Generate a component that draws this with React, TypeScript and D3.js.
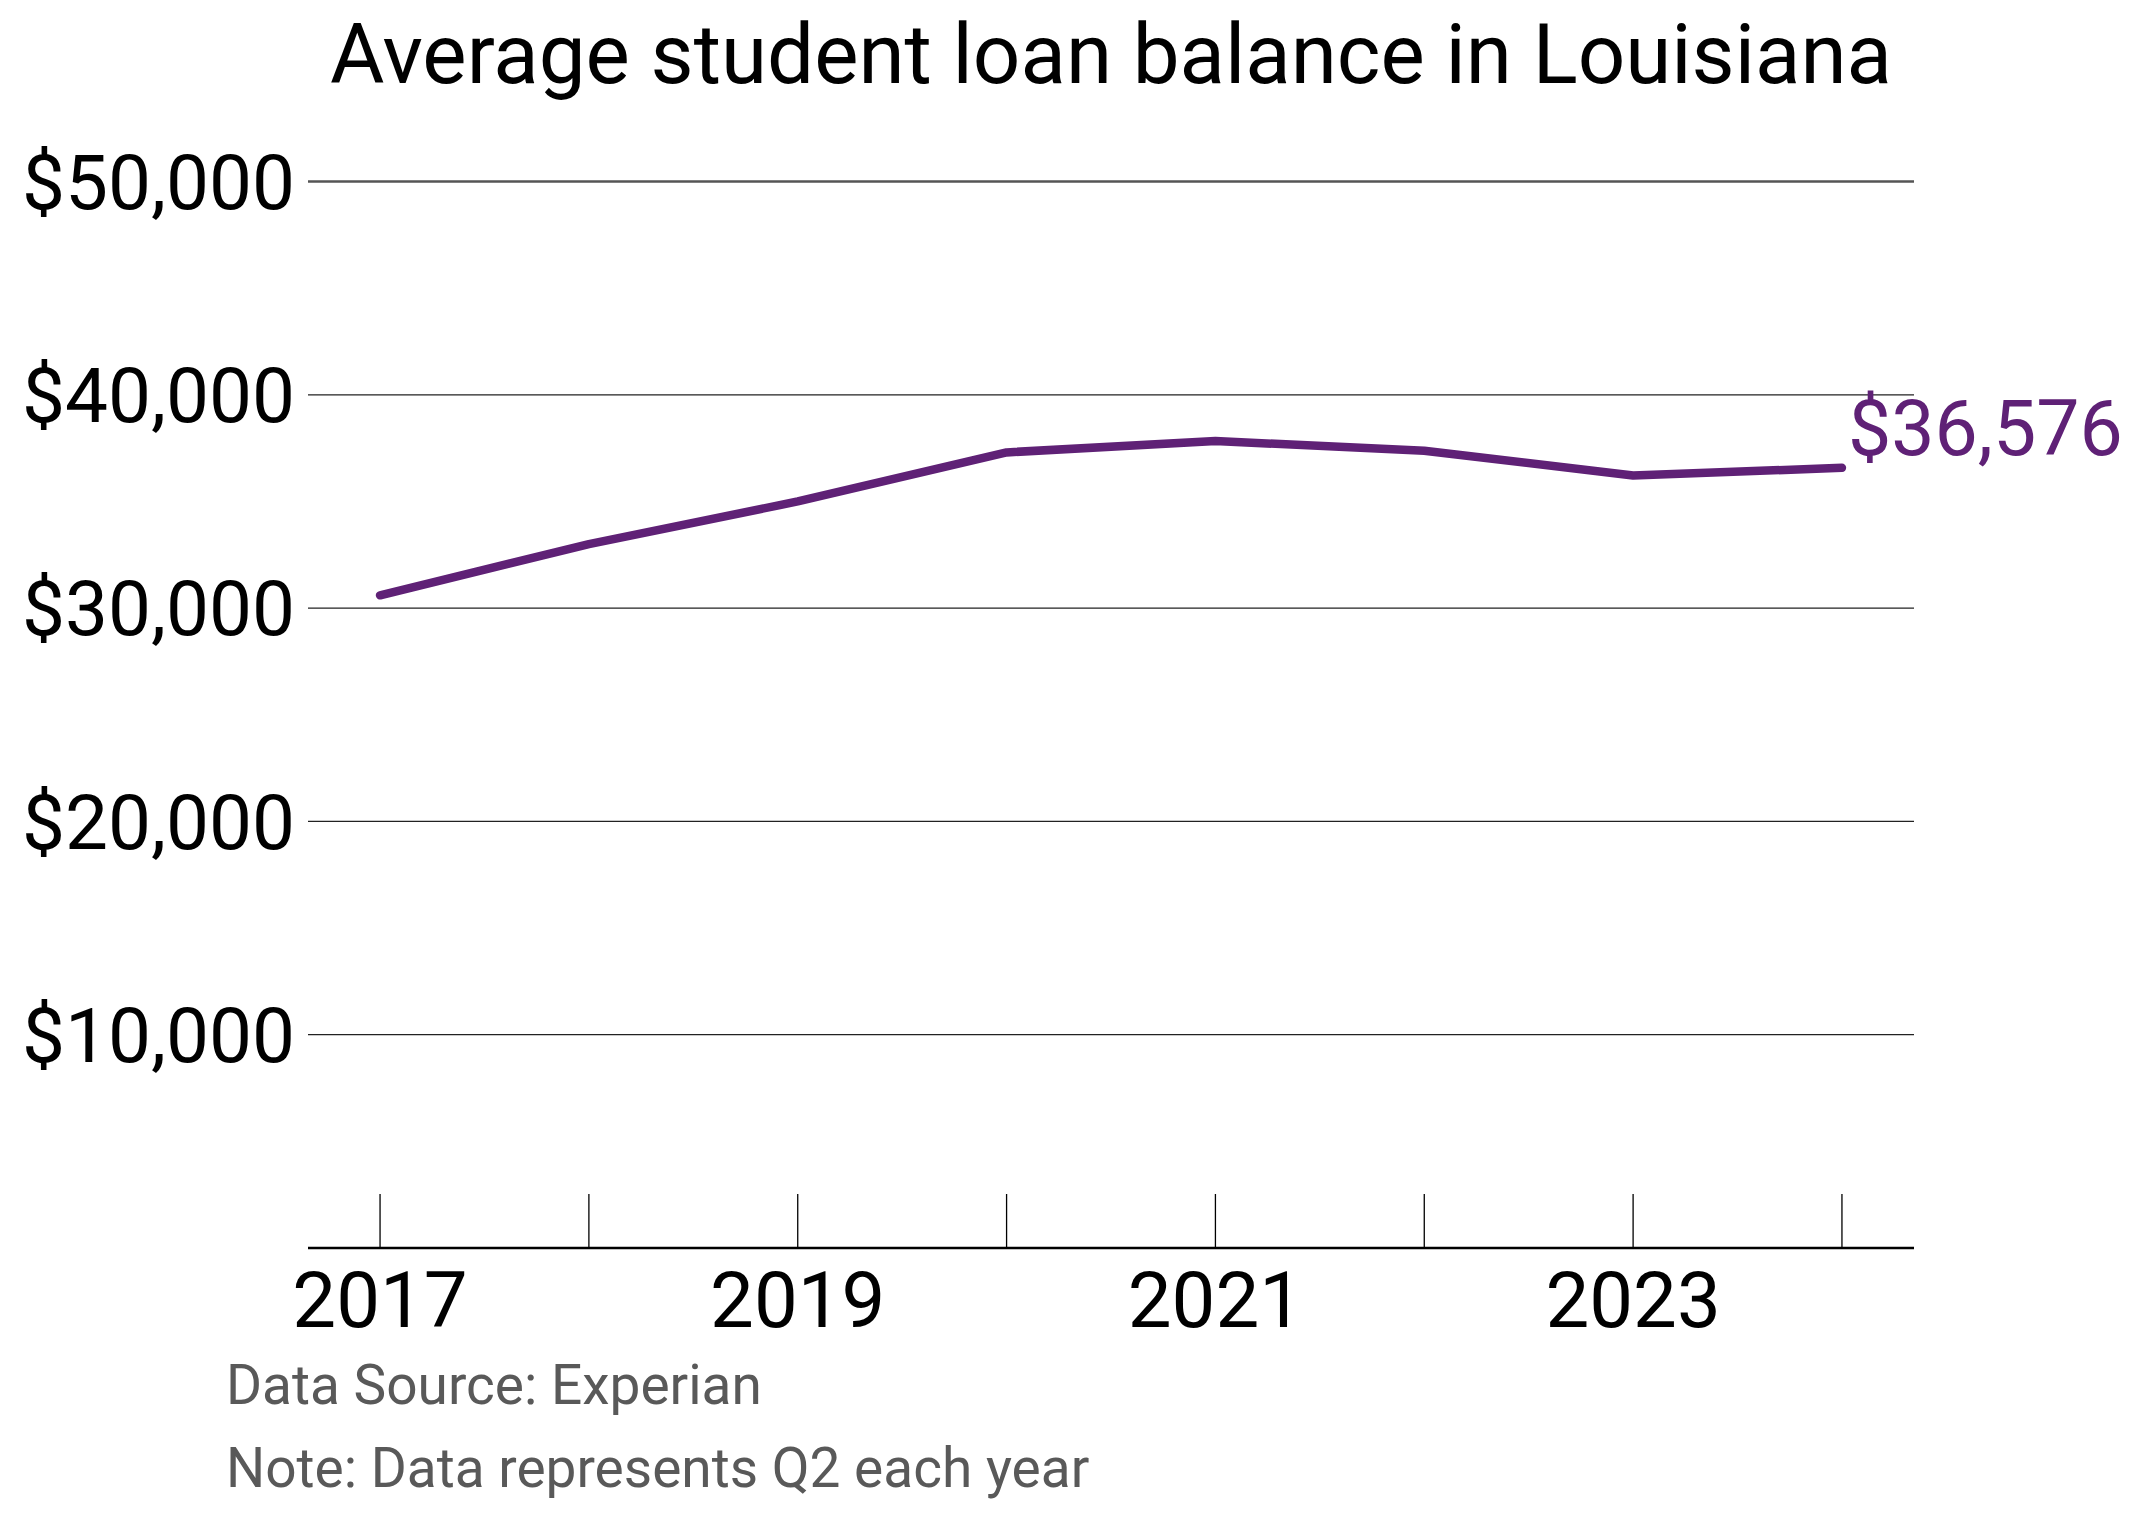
import { useEffect, useRef } from 'react'
import * as d3 from 'd3'

const YEARS = [2017, 2018, 2019, 2020, 2021, 2022, 2023, 2024]
const BALANCE = [30600, 33000, 35000, 37300, 37830, 37380, 36220, 36576]
const Y_TICKS = [10000, 20000, 30000, 40000, 50000]
const X_LABEL_YEARS = [2017, 2019, 2021, 2023]
const FOOTNOTES = ['Data Source: Experian', 'Note: Data represents Q2 each year']

const W = 2141
const H = 1518
const PURPLE = '#5f2176'
const FONT = 'Roboto, sans-serif'

export default function App(): JSX.Element {
  const ref = useRef<SVGSVGElement>(null)

  useEffect(() => {
    document.body.style.margin = '0'
    const node = ref.current
    if (!node) return
    const svg = d3.select(node)
    svg.selectAll('*').remove()

    const left = 308, right = 1914
    const x = d3.scaleLinear().domain([2016.655, 2024.345]).range([left, right])
    const y = d3.scaleLinear().domain([0, 50000]).range([1248, 181.5])

    // title
    svg.append('text')
      .attr('x', 1111).attr('y', 83)
      .attr('text-anchor', 'middle')
      .attr('font-family', FONT).attr('font-size', 83.5)
      .attr('fill', '#000')
      .text('Average student loan balance in Louisiana')

    // gridlines
    svg.append('g').selectAll('line').data(Y_TICKS).join('line')
      .attr('x1', left).attr('x2', right)
      .attr('y1', d => y(d)).attr('y2', d => y(d))
      .attr('stroke', d => d === 50000 ? '#555' : '#222')
      .attr('stroke-width', d => d === 50000 ? 2.6 : 1.2)

    // y labels
    svg.append('g').selectAll('text').data(Y_TICKS).join('text')
      .attr('x', 295).attr('y', d => y(d))
      .attr('dy', '0.355em')
      .attr('text-anchor', 'end')
      .attr('font-family', FONT).attr('font-size', 76.5)
      .attr('fill', '#000')
      .text(d => '$' + d3.format(',')(d))

    // x axis line + ticks
    svg.append('line')
      .attr('x1', left).attr('x2', right)
      .attr('y1', y(0)).attr('y2', y(0))
      .attr('stroke', '#000').attr('stroke-width', 2.7)
    svg.append('g').selectAll('line').data(YEARS).join('line')
      .attr('x1', d => x(d)).attr('x2', d => x(d))
      .attr('y1', 1194).attr('y2', y(0))
      .attr('stroke', '#000').attr('stroke-width', 1.3)

    svg.append('g').selectAll('text').data(X_LABEL_YEARS).join('text')
      .attr('x', d => x(d)).attr('y', 1327)
      .attr('text-anchor', 'middle')
      .attr('font-family', FONT).attr('font-size', 78)
      .attr('fill', '#000')
      .text(d => String(d))

    // line
    const data = YEARS.map((yr, i) => ({ yr, v: BALANCE[i] }))
    const line = d3.line<{ yr: number, v: number }>().x(d => x(d.yr)).y(d => y(d.v))
    svg.append('path')
      .datum(data)
      .attr('d', line)
      .attr('fill', 'none')
      .attr('stroke', PURPLE)
      .attr('stroke-width', 8.5)
      .attr('stroke-linecap', 'round')
      .attr('stroke-linejoin', 'round')

    // end label
    const last = data[data.length - 1]
    svg.append('text')
      .attr('x', x(last.yr) + 6).attr('y', y(last.v) - 13)
      .attr('font-family', FONT).attr('font-size', 77)
      .attr('fill', PURPLE)
      .text('$' + d3.format(',')(last.v))

    // footnotes
    svg.append('g').selectAll('text').data(FOOTNOTES).join('text')
      .attr('x', 226).attr('y', (_, i) => 1404 + i * 83)
      .attr('font-family', FONT).attr('font-size', 55)
      .attr('fill', '#595959')
      .text(d => d)
  }, [])

  return <svg ref={ref} width={W} height={H} viewBox={`0 0 ${W} ${H}`} style={{ display: 'block', background: '#fff' }} />
}
